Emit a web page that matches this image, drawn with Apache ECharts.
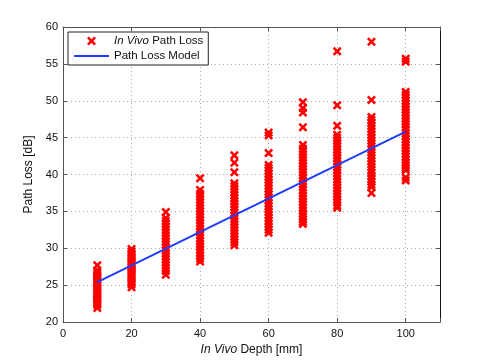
<!DOCTYPE html>
<html>
<head>
<meta charset="utf-8">
<script src="https://cdn.jsdelivr.net/npm/echarts@6/dist/echarts.min.js"></script>
<style>
  html, body { margin: 0; padding: 0; background: #fff; }
  #chart { width: 485px; height: 363px; }
</style>
</head>
<body>
<div id="chart"></div>
<script>
// measured path loss (dB) at each depth (mm)
var depths = [10, 20, 30, 40, 50, 60, 70, 80, 90, 100];
var loss10 = [27.7, 27.0, 26.7, 26.4, 26.1, 25.8, 25.5, 25.2, 24.9, 24.6, 24.3, 24.0, 23.7, 23.4, 23.1, 22.8, 22.5, 22.3, 21.9];
var loss20 = [29.9, 29.6, 29.3, 29.0, 28.7, 28.4, 28.1, 27.8, 27.5, 27.2, 26.9, 26.6, 26.3, 26.0, 25.7, 25.4, 25.1, 24.7];
var loss30 = [34.9, 34.1, 33.7, 33.3, 32.9, 32.5, 32.1, 31.7, 31.3, 30.9, 30.5, 30.1, 29.7, 29.3, 28.9, 28.5, 28.1, 27.7, 27.3, 26.9, 26.4];
var loss40 = [39.5, 37.9, 37.4, 37.0, 36.6, 36.2, 35.8, 35.4, 35.0, 34.6, 34.2, 33.8, 33.4, 33.0, 32.6, 32.2, 31.8, 31.4, 31.0, 30.6, 30.2, 29.8, 29.4, 29.0, 28.6, 28.2];
var loss50 = [42.6, 41.6, 40.3, 38.8, 38.4, 38.0, 37.6, 37.2, 36.8, 36.4, 36.0, 35.6, 35.2, 34.8, 34.4, 34.0, 33.6, 33.2, 32.8, 32.4, 32.0, 31.6, 31.2, 30.8, 30.4];
var loss60 = [45.7, 45.3, 42.9, 41.3, 40.9, 40.5, 40.1, 39.7, 39.3, 38.9, 38.5, 38.1, 37.7, 37.3, 36.9, 36.5, 36.1, 35.7, 35.3, 34.9, 34.5, 34.1, 33.7, 33.3, 32.9, 32.5, 32.1];
var loss70 = [49.8, 49.0, 48.4, 46.4, 44.0, 43.5, 43.1, 42.7, 42.3, 41.9, 41.5, 41.1, 40.7, 40.3, 39.9, 39.5, 39.1, 38.7, 38.3, 37.9, 37.5, 37.1, 36.7, 36.3, 35.9, 35.5, 35.1, 34.7, 34.3, 33.9, 33.6, 33.3];
var loss80 = [56.7, 49.4, 46.6, 45.4, 45.0, 44.6, 44.2, 43.8, 43.4, 43.0, 42.6, 42.2, 41.8, 41.4, 41.0, 40.6, 40.2, 39.8, 39.4, 39.0, 38.6, 38.2, 37.8, 37.4, 37.0, 36.6, 36.2, 35.8, 35.5];
var loss90 = [58.0, 50.1, 47.8, 47.4, 47.0, 46.6, 46.2, 45.8, 45.4, 45.0, 44.6, 44.2, 43.8, 43.4, 43.0, 42.6, 42.2, 41.8, 41.4, 41.0, 40.6, 40.2, 39.8, 39.4, 39.0, 38.6, 38.3, 37.5];
var loss100 = [55.7, 55.3, 51.2, 50.8, 50.4, 50.0, 49.6, 49.2, 48.8, 48.4, 48.0, 47.6, 47.2, 46.8, 46.4, 46.0, 45.6, 45.2, 44.8, 44.4, 44.0, 43.6, 43.2, 42.8, 42.4, 42.0, 41.6, 41.2, 40.9, 40.6, 39.6, 39.2];
var lossByDepth = [loss10, loss20, loss30, loss40, loss50, loss60, loss70, loss80, loss90, loss100];

// fitted model end points
var modelDepth = [10, 100];
var modelLoss = [25.4, 45.8];

var points = [];
depths.forEach(function (d, i) {
  lossByDepth[i].forEach(function (v) {
    points.push([d, v]);
  });
});
var modelLine = modelDepth.map(function (d, i) { return [d, modelLoss[i]]; });

var crossPath = 'path://M0,2L2,0L5,3L8,0L10,2L7,5L10,8L8,10L5,7L2,10L0,8L3,5Z';
var linePath = 'path://M0,0L35,0L35,2L0,2Z';
var font = 'Liberation Sans, Arial, sans-serif';
var axisColor = '#555';

var chart = echarts.init(document.getElementById('chart'));
var option = {
  animation: false,
  textStyle: { fontFamily: font },
  grid: {
    left: 63,
    right: 45,
    top: 27,
    bottom: 41
  },
  legend: {
    left: 68,
    top: 32,
    orient: 'vertical',
    backgroundColor: '#fff',
    borderColor: '#222',
    borderWidth: 1,
    borderRadius: 0,
    padding: [3, 5, 3, 6],
    itemGap: 3,
    itemWidth: 35,
    itemHeight: 9,
    textStyle: {
      fontFamily: font,
      fontSize: 11.5,
      color: '#111',
      rich: {
        i: { fontStyle: 'italic', fontSize: 11.5, fontFamily: font, color: '#111' }
      }
    },
    formatter: function (name) {
      if (name === 'In Vivo Path Loss') {
        return '{i|In Vivo} Path Loss';
      }
      return name;
    },
    data: [
      { name: 'In Vivo Path Loss', icon: crossPath },
      { name: 'Path Loss Model', icon: linePath }
    ]
  },
  xAxis: [{
    type: 'value',
    min: 0,
    max: 110,
    interval: 20,
    name: '{i|In Vivo} Depth [mm]',
    nameLocation: 'middle',
    nameGap: 21,
    nameTextStyle: {
      fontSize: 12,
      color: '#111',
      rich: {
        i: { fontStyle: 'italic', fontSize: 12, fontFamily: font, color: '#111' }
      }
    },
    axisLine: { onZero: false, lineStyle: { color: axisColor, width: 1 } },
    axisTick: { inside: true, length: 4, lineStyle: { color: axisColor } },
    axisLabel: {
      color: '#111',
      fontSize: 11,
      margin: 6,
      formatter: function (v) { return v > 100 ? '' : v; }
    },
    splitLine: { show: true, lineStyle: { color: '#aaa', type: [1, 3] } }
  }, {
    type: 'value',
    position: 'top',
    min: 0,
    max: 110,
    interval: 20,
    axisLine: { onZero: false, lineStyle: { color: axisColor, width: 1 } },
    axisTick: { inside: true, length: 4, lineStyle: { color: axisColor } },
    axisLabel: { show: false },
    splitLine: { show: false }
  }],
  yAxis: [{
    type: 'value',
    min: 20,
    max: 60,
    interval: 5,
    name: 'Path Loss [dB]',
    nameLocation: 'middle',
    nameGap: 27,
    nameTextStyle: { fontSize: 12, color: '#111' },
    axisLine: { onZero: false, lineStyle: { color: axisColor, width: 1 } },
    axisTick: { inside: true, length: 4, lineStyle: { color: axisColor } },
    axisLabel: { color: '#111', fontSize: 11, margin: 5 },
    splitLine: { show: true, lineStyle: { color: '#aaa', type: [1, 3] } }
  }, {
    type: 'value',
    position: 'right',
    min: 20,
    max: 60,
    interval: 5,
    axisLine: { show: true, onZero: false, lineStyle: { color: '#111', width: 1 } },
    axisTick: { show: true, inside: true, length: 4, lineStyle: { color: axisColor } },
    axisLabel: { show: false },
    splitLine: { show: false }
  }],
  series: [
    {
      name: 'In Vivo Path Loss',
      type: 'scatter',
      symbol: crossPath,
      symbolSize: 9,
      itemStyle: { color: '#ff0000', opacity: 1 },
      data: points
    },
    {
      name: 'Path Loss Model',
      type: 'line',
      symbol: 'none',
      lineStyle: { color: '#1f3dff', width: 2 },
      itemStyle: { color: '#1f3dff' },
      data: modelLine,
      z: 3
    }
  ]
};
chart.setOption(option);
</script>
</body>
</html>
